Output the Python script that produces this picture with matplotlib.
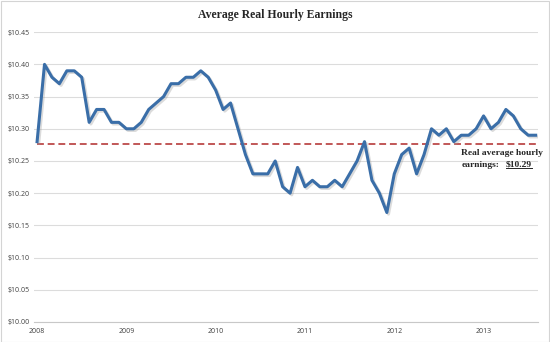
import matplotlib
matplotlib.use("Agg")
import matplotlib.pyplot as plt
import matplotlib.patheffects as pe
from matplotlib.patches import Rectangle
from matplotlib.lines import Line2D

# monthly real average hourly earnings, Jan 2008 .. Aug 2013
earnings = [
    10.28, 10.40, 10.38, 10.37, 10.39, 10.39, 10.38, 10.31, 10.33, 10.33, 10.31, 10.31,  # 2008
    10.30, 10.30, 10.31, 10.33, 10.34, 10.35, 10.37, 10.37, 10.38, 10.38, 10.39, 10.38,  # 2009
    10.36, 10.33, 10.34, 10.30, 10.26, 10.23, 10.23, 10.23, 10.25, 10.21, 10.20, 10.24,  # 2010
    10.21, 10.22, 10.21, 10.21, 10.22, 10.21, 10.23, 10.25, 10.28, 10.22, 10.20, 10.17,  # 2011
    10.23, 10.26, 10.27, 10.23, 10.26, 10.30, 10.29, 10.30, 10.28, 10.29, 10.29, 10.30,  # 2012
    10.32, 10.30, 10.31, 10.33, 10.32, 10.30, 10.29, 10.29,                              # 2013
]
average_level = 10.276
year_labels = ["2008", "2009", "2010", "2011", "2012", "2013"]
y_ticks = [10.00, 10.05, 10.10, 10.15, 10.20, 10.25, 10.30, 10.35, 10.40, 10.45]

months = list(range(len(earnings)))
year_pos = [12 * i for i in range(len(year_labels))]

fig = plt.figure(figsize=(5.5, 3.42), dpi=100)
ax = fig.add_axes([0.062, 0.0585, 0.916, 0.8474])

ax.plot(months, earnings, color="#3a6ea8", lw=2.2, solid_joinstyle="round",
        path_effects=[pe.SimpleLineShadow(offset=(1.2, -1.2), shadow_color="#9a9a9a", alpha=0.35),
                      pe.Normal()], zorder=3)
ax.axhline(average_level, xmin=0.005, color="#b02a2a", lw=1.1, ls=(0, (4.5, 2.5)), zorder=2)

ax.set_xlim(-0.4, 67.3)
ax.set_ylim(10.00, 10.45)
ax.set_yticks(y_ticks)
ax.set_yticklabels([f"${v:.2f}" for v in y_ticks])
ax.set_xticks(year_pos)
ax.set_xticklabels(year_labels)
ax.tick_params(axis="both", length=0, labelsize=5, labelcolor="#404040", pad=3)
ax.tick_params(axis="x", pad=4)
for lab in ax.get_yticklabels() + ax.get_xticklabels():
    lab.set_family("Open Sans")

ax.grid(axis="y", color="#dcdcdc", lw=0.8)
ax.set_axisbelow(True)
for side in ["top", "right", "left"]:
    ax.spines[side].set_visible(False)
ax.spines["bottom"].set_color("#c8c8c8")
ax.spines["bottom"].set_linewidth(0.8)

fig.text(0.5, 0.955, "Average Real Hourly Earnings", ha="center", va="center",
         family="Liberation Serif", weight="bold", fontsize=8.5, color="#262626")

ax.text(57.0, 10.263, "Real average hourly", ha="left", va="center",
        family="Liberation Serif", weight="bold", fontsize=6.8, color="#262626")
ax.text(57.0, 10.244, "earnings:", ha="left", va="center",
        family="Liberation Serif", weight="bold", fontsize=6.8, color="#262626")
price = ax.text(63.0, 10.244, "$10.29", ha="left", va="center",
                family="Liberation Serif", weight="bold", fontsize=6.8, color="#262626")

# underline the price label
fig.canvas.draw()
bb = price.get_window_extent().transformed(fig.transFigure.inverted())
fig.add_artist(Line2D([bb.x0, bb.x1], [bb.y0 + 0.002, bb.y0 + 0.002],
                      transform=fig.transFigure, color="#262626", lw=0.7))

fig.add_artist(Rectangle((0.001, 0.001), 0.997, 0.997, transform=fig.transFigure,
                         fill=False, edgecolor="#d4d4d4", lw=0.8))

fig.savefig("out.png", dpi=100)
